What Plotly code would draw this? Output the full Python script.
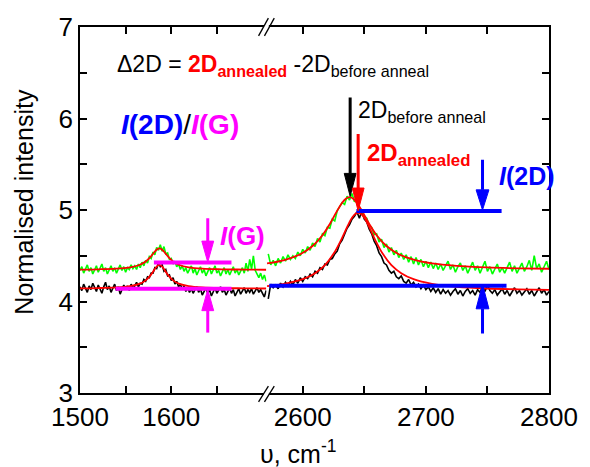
import plotly.graph_objects as go

FONT = "Arial, Liberation Sans, sans-serif"

# ---------------- data ----------------
# Raman shift grids (cm^-1)
x_left = list(range(1500, 1705, 2))     # G region
x_right = list(range(2572, 2801, 2))    # 2D region

# spectrum before anneal (black), G region
before_left = [
    4.16, 4.12, 4.19, 4.14, 4.10, 4.17, 4.13, 4.20, 4.15, 4.11,
    4.18, 4.14, 4.09, 4.16, 4.21, 4.13, 4.17, 4.10, 4.15, 4.19,
    4.12, 4.16, 4.08, 4.14, 4.18, 4.13, 4.17, 4.12, 4.19, 4.15,
    4.17, 4.21, 4.16, 4.20, 4.19, 4.24, 4.22, 4.27, 4.26, 4.31,
    4.31, 4.37, 4.36, 4.42, 4.38, 4.40, 4.33, 4.35, 4.28, 4.29,
    4.23, 4.26, 4.19, 4.22, 4.16, 4.19, 4.13, 4.17, 4.11, 4.15,
    4.10, 4.14, 4.09, 4.13, 4.16, 4.10, 4.14, 4.07, 4.12, 4.15,
    4.09, 4.13, 4.06, 4.11, 4.15, 4.09, 4.12, 4.16, 4.10, 4.13,
    4.07, 4.12, 4.15, 4.09, 4.13, 4.06, 4.11, 4.14, 4.08, 4.12,
    4.15, 4.09, 4.13, 4.10, 4.14, 4.08, 4.12, 4.15, 4.10, 4.13,
    4.09, 4.05, 4.12,
]
# spectrum after anneal (green), G region
annealed_left = [
    4.34, 4.38, 4.31, 4.36, 4.40, 4.33, 4.37, 4.30, 4.35, 4.39,
    4.32, 4.36, 4.41, 4.33, 4.37, 4.30, 4.35, 4.39, 4.33, 4.37,
    4.31, 4.36, 4.40, 4.34, 4.38, 4.32, 4.37, 4.35, 4.40, 4.36,
    4.39, 4.35, 4.41, 4.37, 4.43, 4.39, 4.45, 4.42, 4.49, 4.47,
    4.54, 4.51, 4.59, 4.56, 4.62, 4.55, 4.60, 4.52, 4.53, 4.46,
    4.47, 4.41, 4.44, 4.38, 4.41, 4.35, 4.39, 4.33, 4.37, 4.31,
    4.35, 4.39, 4.31, 4.36, 4.29, 4.34, 4.38, 4.31, 4.35, 4.28,
    4.33, 4.37, 4.30, 4.35, 4.39, 4.31, 4.34, 4.28, 4.33, 4.37,
    4.30, 4.35, 4.29, 4.34, 4.38, 4.31, 4.35, 4.29, 4.33, 4.37,
    4.31, 4.42, 4.33, 4.46, 4.35, 4.50, 4.34, 4.30, 4.26, 4.31,
    4.24, 4.29, 4.22,
]
# spectrum before anneal (black), 2D region
before_right = [
    4.03, 4.19, 4.15, 4.18, 4.14, 4.20, 4.16, 4.21, 4.17, 4.22,
    4.18, 4.24, 4.20, 4.26, 4.22, 4.27, 4.25, 4.30, 4.27, 4.33,
    4.31, 4.37, 4.35, 4.41, 4.40, 4.46, 4.47, 4.52, 4.55, 4.63,
    4.67, 4.74, 4.80, 4.84, 4.90, 4.93, 4.98, 4.91, 4.99, 4.90,
    4.87, 4.79, 4.74, 4.66, 4.61, 4.53, 4.49, 4.42, 4.40, 4.34,
    4.31, 4.33, 4.27, 4.25, 4.28, 4.22, 4.20, 4.24, 4.18, 4.21,
    4.16, 4.19, 4.14, 4.18, 4.13, 4.16, 4.11, 4.15, 4.10, 4.14,
    4.08, 4.13, 4.09, 4.12, 4.07, 4.11, 4.14, 4.08, 4.12, 4.06,
    4.11, 4.14, 4.09, 4.12, 4.07, 4.13, 4.10, 4.16, 4.11, 4.18,
    4.12, 4.09, 4.13, 4.07, 4.11, 4.14, 4.08, 4.12, 4.06, 4.10,
    4.15, 4.09, 4.12, 4.07, 4.11, 4.14, 4.08, 4.12, 4.06, 4.11,
    4.15, 4.09, 4.13, 4.07, 4.11,
]
# spectrum after anneal (green), 2D region
annealed_right = [
    4.52, 4.40, 4.45, 4.39, 4.47, 4.42, 4.49, 4.44, 4.51, 4.46,
    4.50, 4.47, 4.54, 4.50, 4.57, 4.53, 4.60, 4.56, 4.64, 4.60,
    4.69, 4.65, 4.74, 4.72, 4.81, 4.80, 4.90, 4.88, 4.99, 5.03,
    5.08, 5.06, 5.15, 5.11, 5.18, 5.09, 5.12, 5.02, 5.00, 4.93,
    4.91, 4.83, 4.81, 4.73, 4.74, 4.65, 4.68, 4.59, 4.63, 4.54,
    4.59, 4.51, 4.56, 4.48, 4.53, 4.46, 4.51, 4.43, 4.49, 4.41,
    4.48, 4.40, 4.46, 4.38, 4.44, 4.37, 4.43, 4.36, 4.42, 4.35,
    4.41, 4.34, 4.40, 4.44, 4.35, 4.40, 4.32, 4.38, 4.42, 4.34,
    4.39, 4.31, 4.37, 4.43, 4.34, 4.39, 4.31, 4.37, 4.44, 4.33,
    4.38, 4.30, 4.36, 4.41, 4.32, 4.37, 4.31, 4.38, 4.43, 4.33,
    4.39, 4.31, 4.36, 4.42, 4.33, 4.38, 4.45, 4.34, 4.50, 4.36,
    4.41, 4.32, 4.38, 4.44, 4.35,
]

# Lorentzian fits (red)
fit_left_x = [1500, 1520, 1540, 1555, 1565, 1572, 1577, 1581, 1584, 1587,
              1590, 1593, 1597, 1602, 1609, 1619, 1634, 1655, 1680, 1704]
fit_left_before = [4.144, 4.147, 4.154, 4.168, 4.192, 4.231, 4.283, 4.340, 4.382, 4.400,
                   4.382, 4.340, 4.283, 4.231, 4.192, 4.168, 4.154, 4.147, 4.144, 4.142]
fit_left_annealed = [4.349, 4.352, 4.359, 4.374, 4.399, 4.437, 4.484, 4.533, 4.566, 4.580,
                     4.566, 4.533, 4.484, 4.437, 4.399, 4.374, 4.359, 4.352, 4.349, 4.347]
fit_right_before_x = [2571, 2585, 2600, 2610, 2618, 2625, 2631, 2636, 2640, 2643, 2645, 2647,
                      2650, 2654, 2659, 2665, 2672, 2680, 2690, 2705, 2725, 2750, 2775, 2800]
fit_right_before = [4.168, 4.193, 4.244, 4.310, 4.398, 4.521, 4.669, 4.813, 4.915, 4.961, 4.970, 4.961,
                    4.915, 4.813, 4.669, 4.521, 4.398, 4.310, 4.244, 4.193, 4.161, 4.142, 4.133, 4.128]
fit_right_annealed_x = [2571, 2585, 2598, 2608, 2616, 2622, 2628, 2632, 2635, 2638, 2641, 2644,
                        2648, 2654, 2660, 2668, 2678, 2690, 2705, 2725, 2750, 2775, 2800]
fit_right_annealed = [4.416, 4.453, 4.517, 4.606, 4.724, 4.848, 4.993, 5.080, 5.124, 5.140, 5.124, 5.080,
                      4.993, 4.848, 4.724, 4.606, 4.517, 4.457, 4.416, 4.389, 4.372, 4.363, 4.358]

# ticks
xtick_left = [1500, 1550, 1600, 1650]
xlabel_left = ["1500", "", "1600", ""]
xtick_right = [2600, 2650, 2700, 2750, 2800]
xlabel_right = ["2600", "", "2700", "", "2800"]
ytick = [3, 3.5, 4, 4.5, 5, 5.5, 6, 6.5, 7]
ylabel = ["3", "", "4", "", "5", "", "6", "", "7"]

assert len(x_left) == len(before_left) == len(annealed_left)
assert len(x_right) == len(before_right) == len(annealed_right)

# ---------------- figure ----------------
W, H = 590, 467
ML, MR, MT, MB = 80, 32, 24, 74
PW, PH = W - ML - MR, H - MT - MB
D = 190 / PW  # position of the axis break


def pxp(x):
    return (x - ML) / PW


def pyp(y):
    return (H - MB - y) / PH


BLACK, GREEN, RED, BLUE, MAG = "#000000", "#00FF00", "#FF0000", "#0000FF", "#FF00FF"

fig = go.Figure()
fig.add_trace(go.Scatter(x=x_left, y=before_left, mode="lines",
                         line=dict(color=BLACK, width=1.6), xaxis="x", yaxis="y"))
fig.add_trace(go.Scatter(x=x_right, y=before_right, mode="lines",
                         line=dict(color=BLACK, width=1.6), xaxis="x2", yaxis="y2"))
fig.add_trace(go.Scatter(x=x_left, y=annealed_left, mode="lines",
                         line=dict(color=GREEN, width=1.6), xaxis="x", yaxis="y"))
fig.add_trace(go.Scatter(x=x_right, y=annealed_right, mode="lines",
                         line=dict(color=GREEN, width=1.6), xaxis="x2", yaxis="y2"))
for xs, ys, xa, ya in [(fit_left_x, fit_left_before, "x", "y"),
                       (fit_left_x, fit_left_annealed, "x", "y"),
                       (fit_right_before_x, fit_right_before, "x2", "y2"),
                       (fit_right_annealed_x, fit_right_annealed, "x2", "y2")]:
    fig.add_trace(go.Scatter(x=xs, y=ys, mode="lines",
                             line=dict(color=RED, width=1.8, shape="spline"),
                             xaxis=xa, yaxis=ya))

shapes = []


def hline(xr, yr, x0, x1, y, color):
    shapes.append(dict(type="line", xref=xr, yref=yr, x0=x0, x1=x1, y0=y, y1=y,
                       line=dict(color=color, width=4), layer="above"))


def arrow(xr, yr, x, y_tail, y_base, y_tip, hw, color):
    shapes.append(dict(type="line", xref=xr, yref=yr, x0=x, x1=x, y0=y_tail, y1=y_base,
                       line=dict(color=color, width=3), layer="above"))
    shapes.append(dict(type="path", xref=xr, yref=yr,
                       path=f"M {x - hw},{y_base} L {x + hw},{y_base} L {x},{y_tip} Z",
                       fillcolor=color, line=dict(color=color, width=1), layer="above"))


# I(G) markers
hline("x", "y", 1581, 1666, 4.425, MAG)
hline("x", "y", 1539, 1666, 4.14, MAG)
arrow("x", "y", 1640, 4.91, 4.66, 4.43, 6.5, MAG)
arrow("x", "y", 1640, 3.66, 3.90, 4.13, 6.5, MAG)
# I(2D) markers
hline("x2", "y2", 2643.6, 2761.5, 4.99, BLUE)
hline("x2", "y2", 2572.8, 2765.5, 4.173, BLUE)
arrow("x2", "y2", 2746, 5.55, 5.22, 5.0, 5.2, BLUE)
arrow("x2", "y2", 2746, 3.65, 3.92, 4.19, 5.2, BLUE)
# peak position arrows
arrow("x2", "y2", 2638.5, 6.23, 5.40, 5.15, 4.8, BLACK)
arrow("x2", "y2", 2645, 5.83, 5.24, 4.99, 4.8, RED)

# axis break marks
for yline, ya, yb in [(MT, MT + 9, MT - 9), (H - MB, H - MB + 9, H - MB - 7)]:
    shapes.append(dict(type="rect", xref="paper", yref="paper",
                       x0=pxp(267.5), x1=pxp(272.5), y0=pyp(yline + 2), y1=pyp(yline - 2),
                       fillcolor="white", line=dict(width=0), layer="above"))
    for xs in (262, 268):
        shapes.append(dict(type="line", xref="paper", yref="paper",
                           x0=pxp(xs), y0=pyp(ya), x1=pxp(xs + 10), y1=pyp(yb),
                           line=dict(color=BLACK, width=1.3), layer="above"))

annotations = []


def text(x, y, s, size, xanchor="left", color=BLACK, angle=0):
    annotations.append(dict(x=pxp(x), y=pyp(y), xref="paper", yref="paper", text=s,
                            showarrow=False, xanchor=xanchor, yanchor="middle",
                            textangle=angle,
                            font=dict(family=FONT, size=size, color=color)))


text(116, 63, "Δ2D = <span style='color:#FF0000'><b>2D<sub>annealed</sub></b></span>"
     " -2D<sub>before anneal</sub>", 23)
text(120, 122, "<span style='color:#0000FF'><b><i>I</i>(2D)</b></span>/"
     "<span style='color:#FF00FF'><b><i>I</i>(G)</b></span>", 28)
text(361, 109, "2D<sub>before anneal</sub>", 23)
text(370, 153, "<b>2D<sub>annealed</sub></b>", 24, color=RED)
text(505, 174, "<b><i>I</i>(2D)</b>", 25, color=BLUE)
text(221, 235, "<b><i>I</i>(G)</b>", 26, color=MAG)
text(302, 452, "υ, cm<sup>-1</sup>", 25, xanchor="center")
text(22, 200, "Normalised intensity", 25, xanchor="center", angle=-90)

axis_common = dict(ticks="inside", ticklen=7, tickwidth=1.5, tickcolor=BLACK,
                   showline=True, linecolor=BLACK, linewidth=1.5, showgrid=False,
                   zeroline=False, tickmode="array",
                   tickfont=dict(family=FONT, size=26, color=BLACK))

fig.update_layout(
    width=W, height=H, margin=dict(l=ML, r=MR, t=MT, b=MB),
    paper_bgcolor="white", plot_bgcolor="white", showlegend=False,
    xaxis=dict(domain=[0, D], range=[1500, 1704.3], anchor="y", mirror="ticks",
               tickvals=xtick_left, ticktext=xlabel_left, **axis_common),
    xaxis2=dict(domain=[D, 1], range=[2570.5, 2800], anchor="y2", mirror="ticks",
                tickvals=xtick_right, ticktext=xlabel_right, **axis_common),
    yaxis=dict(domain=[0, 1], range=[3, 7], anchor="x", mirror=False,
               tickvals=ytick, ticktext=ylabel, **axis_common),
    yaxis2=dict(domain=[0, 1], range=[3, 7], anchor="x2", side="right", mirror=False,
                tickvals=ytick, ticktext=ylabel, showticklabels=False, **axis_common),
    shapes=shapes, annotations=annotations,
)

fig.write_html("out.html")
